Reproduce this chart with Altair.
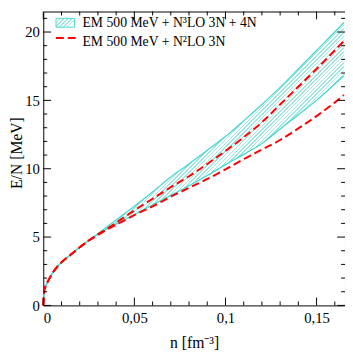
import altair as alt
import pandas as pd

# ---------------- data ----------------
n_vals = [0, 0.0005, 0.001, 0.0025, 0.005, 0.0075, 0.01, 0.015, 0.02, 0.025,
          0.03, 0.035, 0.04, 0.05, 0.06, 0.07, 0.08, 0.09, 0.10, 0.11,
          0.12, 0.13, 0.14, 0.15, 0.16, 0.165]
band_upper = [0, 1.0, 1.3, 1.75, 2.35, 2.8, 3.15, 3.7, 4.25, 4.75,
              5.25, 5.75, 6.25, 7.25, 8.3, 9.4, 10.35, 11.35, 12.35, 13.5,
              14.7, 15.95, 17.3, 18.65, 20.0, 20.7]
band_lower = [0, 1.0, 1.3, 1.75, 2.35, 2.8, 3.15, 3.7, 4.25, 4.75,
              5.2, 5.6, 5.95, 6.65, 7.35, 8.05, 8.75, 9.5, 10.3, 11.05,
              11.85, 12.9, 13.95, 15.0, 16.2, 16.8]
n2lo_upper = [0, 1.0, 1.3, 1.75, 2.35, 2.8, 3.15, 3.7, 4.25, 4.75,
              5.2, 5.6, 6.05, 6.95, 7.8, 8.65, 9.45, 10.35, 11.3, 12.3,
              13.4, 14.7, 16.0, 17.3, 18.65, 19.35]
n2lo_lower = [0, 1.0, 1.3, 1.75, 2.35, 2.8, 3.15, 3.7, 4.25, 4.75,
              5.15, 5.55, 5.9, 6.6, 7.25, 7.95, 8.6, 9.25, 9.95, 10.7,
              11.4, 12.1, 12.95, 13.85, 14.85, 15.4]

x_major = [0, 0.05, 0.1, 0.15]
x_minor = [0.01, 0.02, 0.03, 0.04, 0.06, 0.07, 0.08, 0.09,
           0.11, 0.12, 0.13, 0.14, 0.16]
y_major = [0, 5, 10, 15, 20]
y_minor = [1, 2, 3, 4, 6, 7, 8, 9, 11, 12, 13, 14, 16, 17, 18, 19, 21]

legend_labels = ["EM 500 MeV + N³LO 3N + 4N", "EM 500 MeV + N²LO 3N"]
x_title = "n [fm⁻³]"
y_title = "E/N [MeV]"

# ---------------- style ----------------
W, H = 308, 300
X_MAX, Y_MAX = 0.1656, 21.5
FONT = "Liberation Serif"
CYAN = "#48d6d0"
HATCH = "#9fe6e3"
RED = "#ff0000"
CLEAR = "rgba(255,255,255,0)"


def hatch_gradient(n_stripes, y2, frac=0.4):
    stops = []
    for i in range(n_stripes):
        t0 = i / n_stripes
        t1 = (i + frac) / n_stripes
        stops += [alt.GradientStop(color=CLEAR, offset=t0),
                  alt.GradientStop(color=HATCH, offset=t0),
                  alt.GradientStop(color=HATCH, offset=t1),
                  alt.GradientStop(color=CLEAR, offset=t1)]
    stops.append(alt.GradientStop(color=CLEAR, offset=1))
    return alt.LinearGradient(gradient="linear", stops=stops,
                              x1=0, y1=0, x2=1, y2=y2)


band_h = max(band_upper) / Y_MAX * H
band_w = max(n_vals) / X_MAX * W
band_grad = hatch_gradient(150, band_h / band_w)
legend_grad = hatch_gradient(6, 9 / 19)

df = pd.DataFrame({"n": n_vals, "up": band_upper, "lo": band_lower,
                   "r_up": n2lo_upper, "r_lo": n2lo_lower})

xs = alt.Scale(domain=[0, X_MAX], nice=False, zero=False)
ys = alt.Scale(domain=[0, Y_MAX], nice=False)

x_axis = alt.Axis(values=x_major,
                  labelExpr="replace(toString(datum.value), '.', ',')",
                  ticks=False, domain=False, grid=False, labelPadding=5,
                  labelFontSize=15, labelColor="black",
                  title=x_title, titleFontSize=16,
                  titleFontWeight="normal", titleColor="black",
                  titleBaseline="alphabetic", titleY=43)
y_axis = alt.Axis(values=y_major, ticks=False, domain=False, grid=False,
                  labelPadding=4, labelFontSize=15,
                  labelColor="black",
                  title=y_title, titleFontSize=16,
                  titleFontWeight="normal", titleColor="black",
                  titleBaseline="alphabetic", titleX=-22, titleY=144)


def X(field):
    return alt.X(field, type="quantitative", scale=xs, axis=x_axis)


def Y(field):
    return alt.Y(field, type="quantitative", scale=ys, axis=y_axis)


base = alt.Chart(df)

band = base.mark_area(fill=band_grad, interpolate="monotone").encode(
    x=X("n"), y=Y("lo"), y2="up:Q")

edge_up = base.mark_line(color=CYAN, strokeWidth=1.3, interpolate="monotone").encode(
    x=X("n"), y=Y("up"))
edge_lo = base.mark_line(color=CYAN, strokeWidth=1.3, interpolate="monotone").encode(
    x=X("n"), y=Y("lo"))
red_up = base.mark_line(color=RED, strokeWidth=2, strokeDash=[8, 4],
                        interpolate="monotone").encode(x=X("n"), y=Y("r_up"))
red_lo = base.mark_line(color=RED, strokeWidth=2, strokeDash=[8, 4],
                        interpolate="monotone").encode(x=X("n"), y=Y("r_lo"))


def xticks(vals, length):
    d = alt.Chart(pd.DataFrame({"n": vals}))
    bottom = d.mark_rule(color="black", strokeWidth=1).encode(
        x=X("n"), y=alt.value(H), y2=alt.value(H - length))
    top = d.mark_rule(color="black", strokeWidth=1).encode(
        x=X("n"), y=alt.value(0), y2=alt.value(length))
    return [bottom, top]


def yticks(vals, length):
    d = alt.Chart(pd.DataFrame({"E": vals}))
    left = d.mark_rule(color="black", strokeWidth=1).encode(
        y=Y("E"), x=alt.value(0), x2=alt.value(length))
    right = d.mark_rule(color="black", strokeWidth=1).encode(
        y=Y("E"), x=alt.value(W), x2=alt.value(W - length))
    return [left, right]


ticks = xticks(x_major, 8) + xticks(x_minor, 4) + yticks(y_major, 8) + yticks(y_minor, 4)

# legend
leg1 = pd.DataFrame({"label": [legend_labels[0]]})
leg2 = pd.DataFrame({"label": [legend_labels[1]]})
leg_rect = alt.Chart(leg1).mark_rect(fill=legend_grad, stroke=CYAN, strokeWidth=1).encode(
    x=alt.value(13), x2=alt.value(32), y=alt.value(7), y2=alt.value(16))
leg_dash = alt.Chart(leg2).mark_rule(color=RED, strokeWidth=2, strokeDash=[8, 4]).encode(
    x=alt.value(13), x2=alt.value(33), y=alt.value(27))
leg_t1 = alt.Chart(leg1).mark_text(align="left", baseline="alphabetic",
                                   fontSize=14, color="black").encode(
    x=alt.value(40), y=alt.value(16), text="label:N")
leg_t2 = alt.Chart(leg2).mark_text(align="left", baseline="alphabetic",
                                   fontSize=14, color="black").encode(
    x=alt.value(40), y=alt.value(35), text="label:N")

chart = alt.layer(band, edge_up, edge_lo, red_up, red_lo, *ticks,
                  leg_rect, leg_dash, leg_t1, leg_t2).properties(
    width=W, height=H,
    autosize=alt.AutoSizeParams(type="none"),
    padding={"left": 36, "top": 0, "right": 0, "bottom": 46},
).configure(font=FONT).configure_axis(labelFont=FONT, titleFont=FONT).configure_text(
    font=FONT).configure_view(stroke="black", strokeWidth=1)

chart.save("out.html", embed_options={"renderer": "svg", "actions": False})
